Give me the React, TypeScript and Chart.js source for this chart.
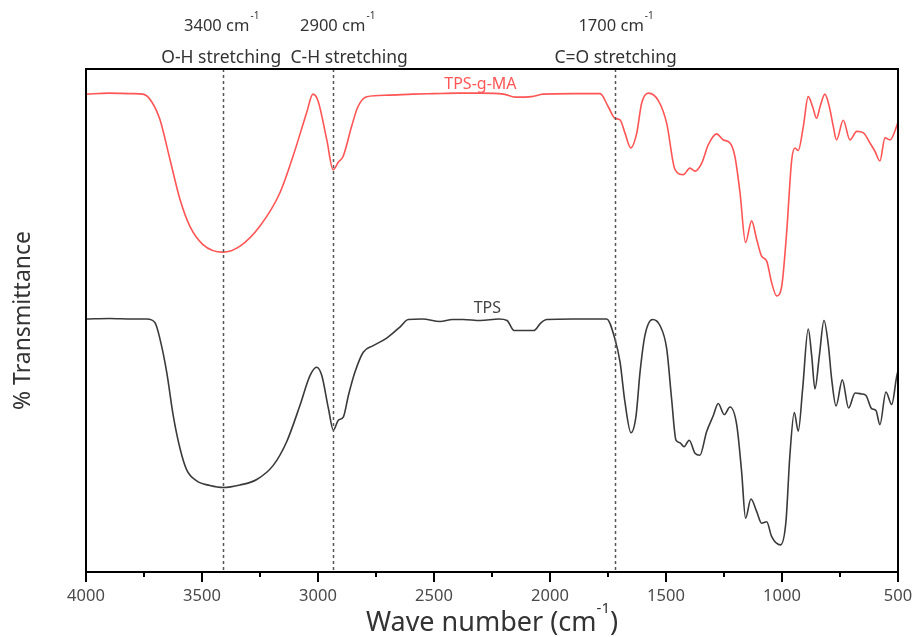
import React, { useEffect, useRef } from "react";
import { Chart, registerables } from "chart.js";

Chart.register(...registerables);

// ---- data (wavenumber cm-1, % transmittance, arbitrary offset scale) ----
const maWave = [4000, 3900, 3800, 3754, 3717, 3681, 3638, 3595, 3552, 3496, 3410, 3336, 3250, 3164, 3108, 3049, 3022, 3000, 2962, 2935, 2912, 2892, 2855, 2828, 2790, 2700, 2591, 2500, 2400, 2300, 2200, 2150, 2080, 2030, 1900, 1784, 1749, 1720, 1698, 1677, 1652, 1626, 1605, 1576, 1533, 1497, 1461, 1425, 1397, 1375, 1346, 1318, 1282, 1253, 1224, 1203, 1181, 1157, 1131, 1109, 1088, 1066, 1045, 1023, 1001, 980, 958, 944, 930, 908, 887, 868, 851, 836, 815, 796, 779, 765, 736, 707, 678, 649, 621, 599, 578, 556, 534, 506, 500];
const maValue = [95.0, 95.2, 95.1, 95.0, 93.5, 89.9, 82.0, 74.1, 68.7, 65.1, 63.6, 64.8, 68.8, 75.4, 82.6, 91.3, 95.0, 93.7, 85.9, 80.0, 81.5, 82.6, 88.6, 92.5, 94.5, 94.8, 95.0, 95.1, 95.2, 95.2, 95.0, 94.4, 94.5, 95.0, 95.1, 95.1, 92.5, 90.2, 89.9, 87.3, 84.3, 87.3, 93.2, 95.2, 93.7, 89.2, 80.0, 79.0, 80.3, 79.7, 81.3, 84.9, 87.1, 85.9, 85.3, 82.6, 75.4, 65.5, 69.8, 66.1, 62.8, 61.8, 57.6, 54.9, 56.9, 67.5, 82.0, 84.3, 83.8, 88.6, 94.5, 92.5, 90.2, 92.5, 95.0, 92.5, 88.6, 85.9, 89.8, 85.9, 87.6, 87.3, 85.3, 83.6, 81.7, 86.3, 85.9, 88.6, 89.5];

const tpsWave = [4000, 3900, 3800, 3738, 3703, 3681, 3652, 3624, 3595, 3566, 3523, 3466, 3408, 3336, 3264, 3193, 3135, 3078, 3034, 3006, 2984, 2955, 2934, 2912, 2891, 2869, 2841, 2805, 2762, 2704, 2647, 2611, 2550, 2474, 2420, 2374, 2300, 2220, 2185, 2155, 2070, 2040, 2014, 1900, 1800, 1756, 1720, 1698, 1677, 1651, 1629, 1612, 1591, 1558, 1526, 1497, 1476, 1457, 1440, 1422, 1400, 1375, 1354, 1325, 1296, 1275, 1249, 1224, 1195, 1174, 1157, 1134, 1109, 1088, 1066, 1045, 1006, 983, 966, 947, 930, 911, 887, 872, 858, 839, 819, 800, 786, 767, 740, 713, 685, 657, 638, 614, 595, 578, 552, 527, 506, 500];
const tpsValue = [50.3, 50.4, 50.3, 50.3, 49.6, 46.3, 39.7, 31.1, 24.6, 20.3, 18.1, 17.2, 16.8, 17.3, 18.4, 21.2, 25.9, 33.1, 39.1, 40.7, 39.1, 32.5, 28.2, 30.2, 30.8, 35.1, 39.7, 43.7, 45.0, 46.5, 48.7, 50.2, 50.3, 49.8, 50.2, 50.2, 50.0, 50.3, 50.0, 48.0, 48.0, 49.5, 50.2, 50.3, 50.3, 50.3, 46.3, 41.7, 33.8, 27.7, 31.1, 39.7, 47.0, 50.2, 49.0, 44.4, 34.5, 26.2, 25.7, 24.9, 26.2, 23.6, 23.2, 27.9, 31.1, 33.5, 31.3, 32.8, 29.2, 19.9, 10.7, 14.5, 12.0, 9.7, 10.0, 7.1, 5.4, 10.0, 23.2, 31.7, 28.0, 36.4, 48.3, 43.0, 36.4, 43.0, 50.0, 45.0, 38.4, 33.0, 38.2, 32.6, 35.6, 35.4, 35.1, 32.5, 32.1, 29.3, 35.8, 33.3, 38.8, 40.0];

const seriesNames = ["TPS-g-MA", "TPS"];
const seriesLabelWave = [2300, 2270];
const seriesLabelValue = [96.0, 51.4];

// marker lines (actual band positions) and their labels
const bandLineWave = [3410, 2935, 1720];
const bandNominal = [3400, 2900, 1700];
const bandNames = ["O-H stretching", "C-H stretching", "C=O stretching"];

const xMin = 500;
const xMax = 4000;
const xStep = 250;
const xLabelStep = 500;

const RED = "#ff5555";
const DARK = "#3a3a3a";
const TEXT = "#333333";
const FONT = '"Noto Sans"';

const annotationPlugin = {
  id: "ftirAnnotations",
  afterDatasetsDraw(chart: any) {
    const { ctx, chartArea, scales } = chart;
    const xs = scales.x;
    const ys = scales.y;
    ctx.save();
    // dashed marker lines
    ctx.strokeStyle = "#555";
    ctx.lineWidth = 1.5;
    ctx.setLineDash([3, 3]);
    bandLineWave.forEach((w) => {
      const px = Math.round(xs.getPixelForValue(w)) + 0.5;
      ctx.beginPath();
      ctx.moveTo(px, chartArea.top);
      ctx.lineTo(px, chartArea.bottom);
      ctx.stroke();
    });
    ctx.setLineDash([]);

    // frame
    ctx.strokeStyle = "#000";
    ctx.lineWidth = 2;
    ctx.strokeRect(chartArea.left, chartArea.top, chartArea.right - chartArea.left, chartArea.bottom - chartArea.top);

    // tick marks (major every 500, minor every 250)
    ctx.lineWidth = 2;
    xs.ticks.forEach((t: any) => {
      const px = xs.getPixelForValue(t.value);
      const major = t.value % xLabelStep === 0;
      ctx.beginPath();
      ctx.moveTo(px, chartArea.bottom);
      ctx.lineTo(px, chartArea.bottom + (major ? 10 : 5));
      ctx.stroke();
    });

    // band labels
    ctx.fillStyle = TEXT;
    ctx.textBaseline = "alphabetic";
    bandNominal.forEach((w, i) => {
      const px = xs.getPixelForValue(w);
      const main = `${w} cm`;
      ctx.font = `16.5px ${FONT}`;
      const mw = ctx.measureText(main).width;
      ctx.font = `10px ${FONT}`;
      const sw = ctx.measureText("-1").width;
      const total = mw + sw;
      const sx = px - total / 2 - 4;
      ctx.textAlign = "left";
      ctx.font = `16.5px ${FONT}`;
      ctx.fillText(main, sx, chartArea.top - 38);
      ctx.font = `10px ${FONT}`;
      ctx.fillText("-1", sx + mw + 1, chartArea.top - 50);
      ctx.font = `17.5px ${FONT}`;
      ctx.textAlign = "center";
      ctx.fillText(bandNames[i], px + (i === 1 ? 8 : -4), chartArea.top - 6);
    });

    // series labels
    ctx.font = `16px ${FONT}`;
    ctx.textAlign = "center";
    seriesNames.forEach((name, i) => {
      ctx.fillStyle = i === 0 ? RED : "#444";
      ctx.fillText(name, xs.getPixelForValue(seriesLabelWave[i]), ys.getPixelForValue(seriesLabelValue[i]));
    });

    // y title
    ctx.save();
    ctx.translate(30, (chartArea.top + chartArea.bottom) / 2);
    ctx.rotate(-Math.PI / 2);
    ctx.font = `23px ${FONT}`;
    ctx.fillStyle = TEXT;
    ctx.textAlign = "center";
    ctx.textBaseline = "alphabetic";
    ctx.fillText("% Transmittance", 0, 0);
    ctx.restore();

    // x title
    const cx = (chartArea.left + chartArea.right) / 2;
    ctx.font = `27px ${FONT}`;
    const t1 = "Wave number (cm";
    const w1 = ctx.measureText(t1).width;
    ctx.font = `15px ${FONT}`;
    const w2 = ctx.measureText("-1").width;
    ctx.font = `27px ${FONT}`;
    const w3 = ctx.measureText(")").width;
    const startX = cx - (w1 + w2 + w3) / 2;
    ctx.fillStyle = TEXT;
    ctx.textAlign = "left";
    ctx.fillText(t1, startX, chartArea.bottom + 59);
    ctx.font = `15px ${FONT}`;
    ctx.fillText("-1", startX + w1, chartArea.bottom + 41);
    ctx.font = `27px ${FONT}`;
    ctx.fillText(")", startX + w1 + w2, chartArea.bottom + 59);
    ctx.restore();
  },
};

export default function App() {
  const canvasRef = useRef<HTMLCanvasElement | null>(null);
  useEffect(() => {
    document.body.style.margin = "0";
    const canvas = canvasRef.current;
    if (!canvas) return;
    const chart = new Chart(canvas, {
      type: "line",
      data: {
        datasets: [
          {
            label: seriesNames[0],
            data: maWave.map((w, i) => ({ x: w, y: maValue[i] })),
            borderColor: RED,
            borderWidth: 1.6,
            pointRadius: 0,
            cubicInterpolationMode: "monotone",
            fill: false,
          },
          {
            label: seriesNames[1],
            data: tpsWave.map((w, i) => ({ x: w, y: tpsValue[i] })),
            borderColor: DARK,
            borderWidth: 1.6,
            pointRadius: 0,
            cubicInterpolationMode: "monotone",
            fill: false,
          },
        ],
      },
      options: {
        animation: false,
        responsive: false,
        devicePixelRatio: 1,
        layout: { padding: { left: 86, right: 16, top: 69, bottom: 0 } },
        plugins: { legend: { display: false }, tooltip: { enabled: false } },
        scales: {
          x: {
            type: "linear",
            reverse: true,
            min: xMin,
            max: xMax,
            afterFit: (s: any) => {
              s.height = 65;
              s.paddingLeft = 0;
              s.paddingRight = 0;
            },
            ticks: {
              stepSize: xStep,
              autoSkip: false,
              maxRotation: 0,
              padding: 14,
              color: "#4a4a4a",
              font: { family: "Noto Sans", size: 16.5 },
              callback: (v: any) => (Number(v) % xLabelStep === 0 ? String(v) : ""),
            },
            grid: { display: true, drawOnChartArea: false, drawTicks: false, color: "rgba(0,0,0,0)" },
            border: { display: false },
          },
          y: {
            type: "linear",
            min: 0,
            max: 100,
            afterFit: (s: any) => {
              s.width = 0;
            },
            ticks: { display: false },
            grid: { display: false },
            border: { display: false },
          },
        },
      },
      plugins: [annotationPlugin],
    });
    return () => chart.destroy();
  }, []);
  return (
    <div style={{ position: "absolute", left: 0, top: 0, width: 914, height: 637, background: "#fff" }}>
      <canvas ref={canvasRef} width={914} height={637} style={{ width: 914, height: 637 }} />
    </div>
  );
}
